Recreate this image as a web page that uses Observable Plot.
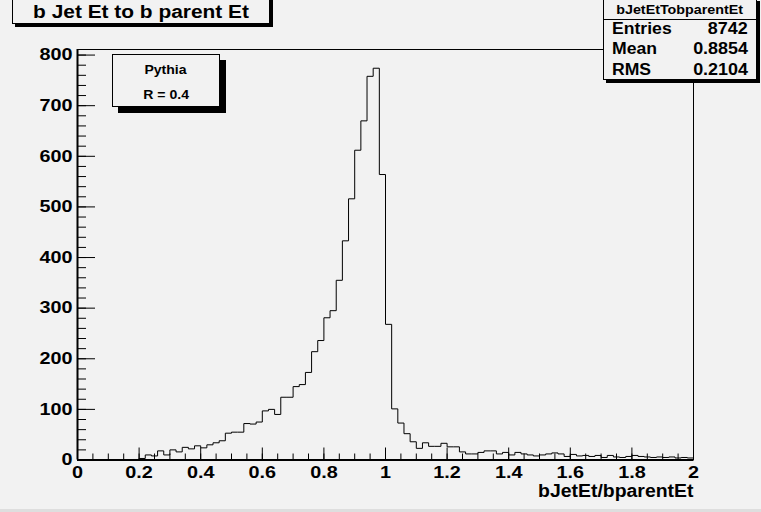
<!DOCTYPE html>
<html><head><meta charset="utf-8">
<script src="https://cdn.jsdelivr.net/npm/d3@7"></script>
<script src="https://cdn.jsdelivr.net/npm/@observablehq/plot@0.6"></script>
<style>
body{margin:0;background:#f2f2f2;}
#wrap{position:relative;width:761px;height:512px;overflow:hidden;background:#f2f2f2;font-family:"Liberation Sans",Arial,Helvetica,sans-serif;font-weight:bold;color:#000;}
.box{position:absolute;background:#f2f2f2;border:1px solid #000;box-sizing:border-box;}
.row{position:absolute;height:20px;line-height:20px;white-space:nowrap;}
.s{display:inline-block;white-space:nowrap;}
</style></head><body><div id="wrap"></div>
<script>
// ---- data ----
const chartTitle = "b Jet Et to b parent Et";
const xTitle = "bJetEt/bparentEt";
const statsName = "bJetEtTobparentEt";
const statsLabels = ["Entries", "Mean", "RMS"];
const statsValues = ["8742", "0.8854", "0.2104"];
const legendLines = ["Pythia", "R = 0.4"];
const binStart = 0, binEnd = 2, binWidth = 0.02;
const counts = [
  0,0,0,0,0,0,0,0,0,1,
  3,10,8,18,10,20,16,25,22,28,
  24,30,34,38,53,55,55,72,71,75,
  97,100,90,124,124,145,149,173,214,236,
  281,295,355,433,516,612,670,758,774,564,
  268,101,73,52,36,23,34,27,27,33,
  26,26,16,12,12,15,18,18,12,15,
  10,15,12,10,8,10,12,14,12,7,
  11,8,9,7,9,5,9,6,5,7,
  9,7,6,5,6,5,6,4,5,4
];
const xTicks = [0, 0.2, 0.4, 0.6, 0.8, 1, 1.2, 1.4, 1.6, 1.8, 2];
const yTicks = [0, 100, 200, 300, 400, 500, 600, 700, 800];
const xMinor = d3.range(0, 41).map(i => i * 0.05);
const yMinor = d3.range(0, 41).map(i => i * 20);
const yMax = 811;

// ---- layout ----
const W = 761, H = 512;
const mL = 77, mR = 68, mT = 49, mB = 52.5;
const innerW = W - mL - mR, innerH = H - mT - mB;

const pts = counts.map((c, i) => ({x: binStart + i * binWidth, y: c}));
pts.push({x: binEnd, y: counts[counts.length - 1]});

const font = '"Liberation Sans", Arial, Helvetica, sans-serif';
const plot = Plot.plot({
  width: W, height: H,
  marginLeft: mL, marginRight: mR, marginTop: mT, marginBottom: mB,
  style: {background: "transparent", fontFamily: font},
  x: {domain: [binStart, binEnd]},
  y: {domain: [0, yMax]},
  marks: [
    Plot.frame({stroke: "#000", strokeWidth: 1, fill: "#f2f2f2"}),
    Plot.line(pts, {x: "x", y: "y", curve: "step-after", stroke: "#000", strokeWidth: 1}),
    Plot.tickX(xMinor, {x: d => d, insetTop: innerH - 6, stroke: "#000"}),
    Plot.tickX(xTicks, {x: d => d, insetTop: innerH - 12, stroke: "#000"}),
    Plot.tickY(yMinor.filter(v => v <= yMax), {y: d => d, insetRight: innerW - 9, stroke: "#000"}),
    Plot.tickY(yTicks, {y: d => d, insetRight: innerW - 18, stroke: "#000"}),
    Plot.ruleY([0], {stroke: "#000", strokeWidth: 2}),
    Plot.ruleX([0], {stroke: "#000", strokeWidth: 2}),
    Plot.axisX({ticks: xTicks, tickSize: 0, tickPadding: 6, tickFormat: d => String(d), fontSize: 16.5, fontWeight: "bold", fill: "#000", label: null}),
    Plot.axisY({ticks: yTicks, tickSize: 0, tickPadding: 5, tickFormat: d => String(d), fontSize: 16.5, fontWeight: "bold", fill: "#000", label: null}),
    Plot.text([xTitle], {frameAnchor: "bottom-right", dy: 31, textAnchor: "end", lineAnchor: "middle", fontSize: 17.5, fontWeight: "bold", fill: "#000", className: "xtitle"})
  ]
});

const wrap = document.getElementById("wrap");
wrap.appendChild(plot);

// horizontally stretch text like ROOT's rendering
plot.querySelectorAll("text").forEach(t => {
  const isTitle = t.closest(".xtitle") !== null;
  const f = isTitle ? 1.11 : 1.2;
  const w = t.getComputedTextLength();
  if (w > 0) {
    t.setAttribute("textLength", (w * f).toFixed(2));
    t.setAttribute("lengthAdjust", "spacingAndGlyphs");
  }
});

function el(tag, style, html) {
  const e = document.createElement(tag);
  e.setAttribute("style", style);
  if (html !== undefined) e.innerHTML = html;
  return e;
}
function span(txt, size, sx, origin) {
  return `<span class="s" style="font-size:${size}px;transform:scaleX(${sx});transform-origin:${origin};">${txt}</span>`;
}

// title box
const tb = el("div", "left:12px;top:-3px;width:258px;height:27px;box-shadow:3px 3px 0 #000;");
tb.className = "box";
tb.appendChild(el("div", "position:absolute;left:0;right:0;top:3px;height:22px;line-height:22px;text-align:center;", span(chartTitle, 18, 1.16, "center")));
wrap.appendChild(tb);

// stats box
const sb = el("div", "left:603px;top:-2px;width:154px;height:82px;box-shadow:3px 3px 0 #000;");
sb.className = "box";
sb.appendChild(el("div", "position:absolute;left:0;right:0;top:0;height:20px;border-bottom:1px solid #000;line-height:20px;text-align:center;", span(statsName, 13, 1.1, "center")));
const rowCenters = [29.5, 50, 71];
statsLabels.forEach((lab, i) => {
  sb.appendChild(el("div", `left:8px;top:${rowCenters[i] - 10}px;`, span(lab, 16, 1.1, "left"))).className = "row";
  const v = el("div", `right:8px;top:${rowCenters[i] - 10}px;text-align:right;`, span(statsValues[i], 16, 1.12, "right"));
  v.className = "row";
  sb.appendChild(v);
});
sb.querySelectorAll("div").forEach(d => { if (d.className !== "row" && d.style.borderBottom === "") {} });
wrap.appendChild(sb);

// legend box
const lb = el("div", "left:112px;top:54px;width:108px;height:53px;box-shadow:6px 6px 0 #000;");
lb.className = "box";
const legCenters = [14, 39];
legendLines.forEach((t, i) => {
  const r = el("div", `left:0;right:0;top:${legCenters[i] - 10}px;text-align:center;`, span(t, 13, 1.08, "center"));
  r.className = "row";
  lb.appendChild(r);
});
wrap.appendChild(lb);

// canvas bottom bevel
wrap.appendChild(el("div", "position:absolute;left:0;right:0;top:509px;height:3px;background:#dedede;"));
</script>
</body></html>
